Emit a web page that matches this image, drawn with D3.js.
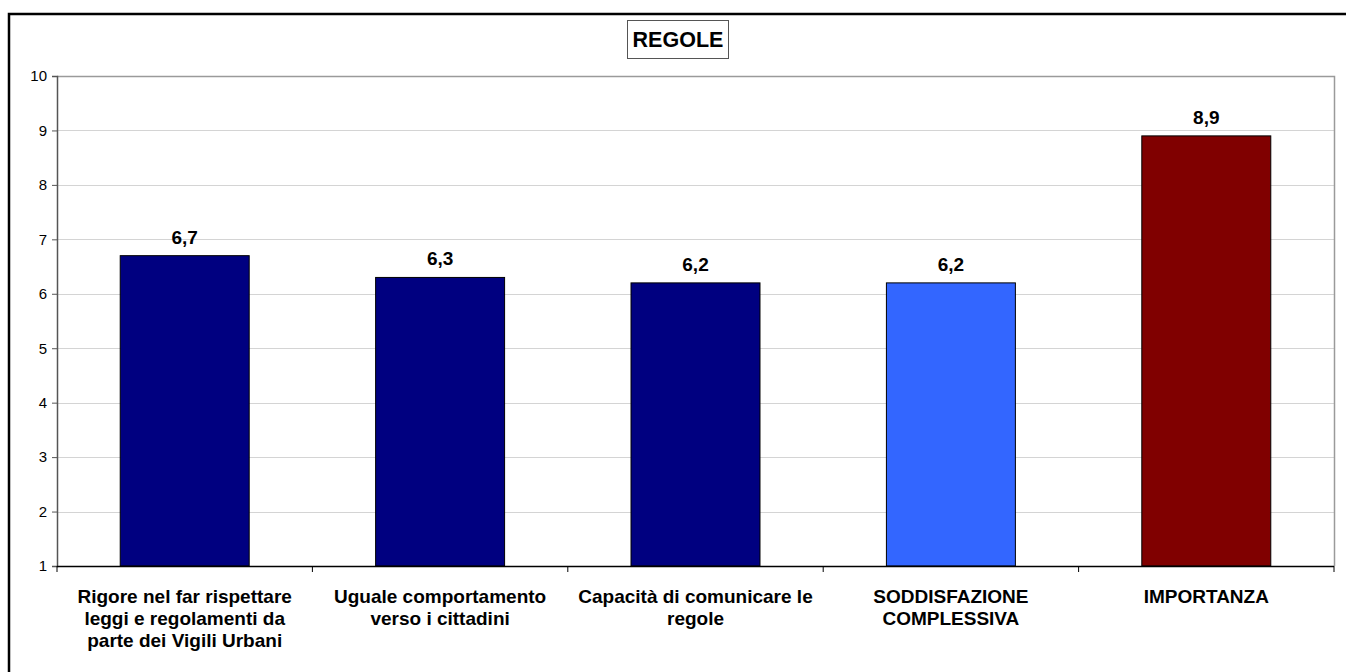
<!DOCTYPE html>
<html>
<head>
<meta charset="utf-8">
<script src="https://cdn.jsdelivr.net/npm/d3@7"></script>
<style>
  html, body { margin: 0; padding: 0; background: #fff; }
  svg { display: block; font-family: "Liberation Sans", Arial, sans-serif; }
</style>
</head>
<body>
<svg id="chart" width="1346" height="672"></svg>
<script>
// Category labels (each entry is a list of wrapped lines)
const categories = [
  ["Rigore nel far rispettare", "leggi e regolamenti da", "parte dei Vigili Urbani"],
  ["Uguale comportamento", "verso i cittadini"],
  ["Capacità di comunicare le", "regole"],
  ["SODDISFAZIONE", "COMPLESSIVA"],
  ["IMPORTANZA"]
];
const values = [6.7, 6.3, 6.2, 6.2, 8.9];
const barColors = ["#000080", "#000080", "#000080", "#3366FF", "#800000"];
const yTicks = [1, 2, 3, 4, 5, 6, 7, 8, 9, 10];
const chartTitle = "REGOLE";

const svg = d3.select("#chart");
const W = 1346, H = 672;
const plot = { left: 57, right: 1334, top: 76, bottom: 566 };

// Outer frame (extends past the right and bottom edges)
svg.append("rect")
  .attr("x", 9).attr("y", 14)
  .attr("width", W + 10).attr("height", H + 10)
  .attr("fill", "none").attr("stroke", "#000").attr("stroke-width", 2.5);

const x = d3.scaleBand()
  .domain(d3.range(categories.length))
  .range([plot.left, plot.right])
  .paddingInner(0.495).paddingOuter(0.2475);

const y = d3.scaleLinear().domain([1, 10]).range([plot.bottom, plot.top]);

// Horizontal gridlines
svg.append("g")
  .selectAll("line")
  .data(yTicks.filter(t => t > 1 && t < 10))
  .join("line")
  .attr("x1", plot.left).attr("x2", plot.right)
  .attr("y1", d => Math.round(y(d)) + 0.5).attr("y2", d => Math.round(y(d)) + 0.5)
  .attr("stroke", "#d4d4d4").attr("stroke-width", 1);

// Plot area border (top and right)
svg.append("path")
  .attr("d", `M${plot.left},${plot.top + 0.5}H${plot.right + 0.5}V${plot.bottom}`)
  .attr("fill", "none").attr("stroke", "#9a9a9a").attr("stroke-width", 1.5);

// Bars
svg.append("g")
  .selectAll("rect")
  .data(values)
  .join("rect")
  .attr("x", (d, i) => x(i))
  .attr("y", d => y(d))
  .attr("width", x.bandwidth())
  .attr("height", d => y(1) - y(d))
  .attr("fill", (d, i) => barColors[i])
  .attr("stroke", "#000").attr("stroke-width", 1);

// Value labels
svg.append("g")
  .selectAll("text")
  .data(values)
  .join("text")
  .attr("x", (d, i) => x(i) + x.bandwidth() / 2)
  .attr("y", d => y(d) - 12)
  .attr("text-anchor", "middle")
  .attr("font-size", 19).attr("font-weight", "bold").attr("fill", "#000")
  .text(d => d.toFixed(1).replace(".", ","));

// Y axis
const yAxis = svg.append("g")
  .attr("transform", `translate(${plot.left},0)`)
  .call(d3.axisLeft(y).tickValues(yTicks).tickSize(5).tickPadding(5).tickFormat(d3.format("d")));
yAxis.select(".domain").attr("stroke", "#555").attr("stroke-width", 1.5);
yAxis.selectAll(".tick line").attr("stroke", "#555");
yAxis.selectAll(".tick text")
  .attr("font-size", 15).attr("font-family", "'Liberation Sans', Arial, sans-serif").attr("fill", "#000");

// X axis line and ticks between categories
const xTickPos = d3.range(categories.length + 1).map(i => plot.left + i * (plot.right - plot.left) / categories.length);
svg.append("line")
  .attr("x1", plot.left).attr("x2", plot.right)
  .attr("y1", plot.bottom + 0.5).attr("y2", plot.bottom + 0.5)
  .attr("stroke", "#000").attr("stroke-width", 1.5);
svg.append("g")
  .selectAll("line")
  .data(xTickPos)
  .join("line")
  .attr("x1", d => d).attr("x2", d => d)
  .attr("y1", plot.bottom).attr("y2", plot.bottom + 6)
  .attr("stroke", "#000").attr("stroke-width", 1);

// Category labels
const catG = svg.append("g");
categories.forEach((lines, i) => {
  const cx = x(i) + x.bandwidth() / 2;
  const t = catG.append("text")
    .attr("x", cx)
    .attr("y", 603)
    .attr("text-anchor", "middle")
    .attr("font-size", 19).attr("font-weight", "bold").attr("fill", "#000");
  lines.forEach((ln, k) => {
    t.append("tspan")
      .attr("x", cx)
      .attr("dy", k === 0 ? 0 : 22)
      .text(ln);
  });
});

// Title in a box
const titleG = svg.append("g");
titleG.append("rect")
  .attr("x", 627.5).attr("y", 20.5).attr("width", 101).attr("height", 38)
  .attr("fill", "#fff").attr("stroke", "#555").attr("stroke-width", 1);
titleG.append("text")
  .attr("x", 678).attr("y", 47)
  .attr("text-anchor", "middle")
  .attr("font-size", 21.5).attr("font-weight", "bold").attr("fill", "#000")
  .text(chartTitle);
</script>
</body>
</html>
